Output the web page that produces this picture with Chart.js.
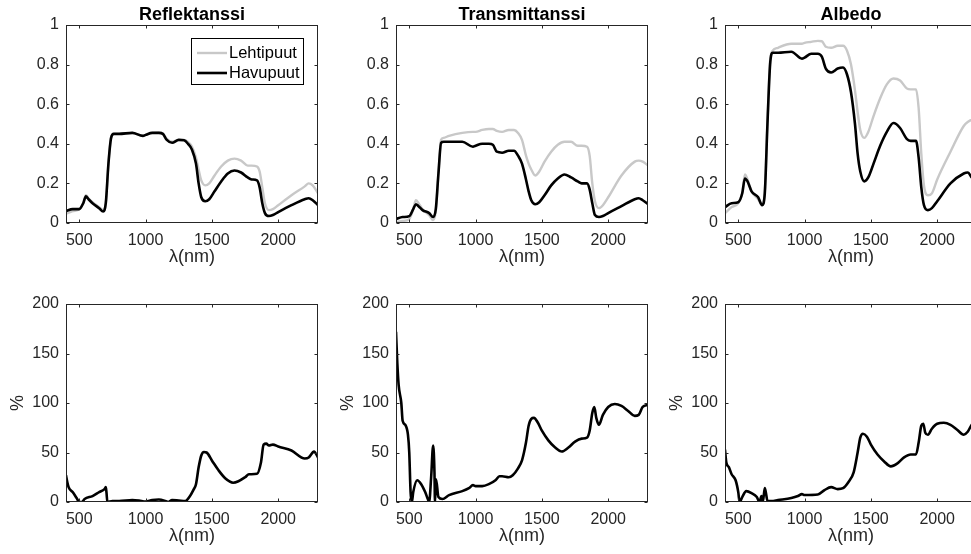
<!DOCTYPE html>
<html>
<head>
<meta charset="utf-8">
<script src="https://cdn.jsdelivr.net/npm/chart.js@4.4.0/dist/chart.umd.min.js"></script>
<style>
  html, body { margin: 0; padding: 0; background: #fff; }
  body { width: 971px; height: 554px; overflow: hidden; position: relative; }
  .panel { position: absolute; }
  canvas { display: block; }
</style>
</head>
<body>
<div class="panel" style="left:0px;top:0px"><canvas id="refl" width="330" height="280"></canvas></div>
<div class="panel" style="left:330px;top:0px"><canvas id="trans" width="330" height="280"></canvas></div>
<div class="panel" style="left:659px;top:0px"><canvas id="albedo" width="330" height="280"></canvas></div>
<div class="panel" style="left:0px;top:280px"><canvas id="reflDiff" width="330" height="274"></canvas></div>
<div class="panel" style="left:330px;top:280px"><canvas id="transDiff" width="330" height="274"></canvas></div>
<div class="panel" style="left:659px;top:280px"><canvas id="albedoDiff" width="330" height="274"></canvas></div>
<script>
// wavelengths (nm) used for the spectra of the top row
var wl = [400, 450, 500, 530, 550, 570, 600, 650, 680, 700, 720, 740, 760, 800, 900, 980, 1000, 1050, 1100, 1130,
  1160, 1200, 1250, 1290, 1320, 1350, 1380, 1400, 1420, 1450, 1480, 1520, 1570, 1620, 1670, 1720, 1770, 1800, 1840, 1860,
  1880, 1900, 1930, 1960, 2000, 2100, 2200, 2230, 2260, 2300];

// Reflektanssi
var reflLehti = [.047, .06, .07, .10, .14, .125, .105, .08, .065, .10, .30, .43, .45, .45, .455, .44, .445, .455, .457, .452,
  .425, .41, .42, .42, .41, .385, .33, .27, .215, .19, .20, .24, .285, .315, .325, .315, .29, .29, .285, .26,
  .18, .10, .065, .07, .09, .14, .185, .20, .19, .15];
var reflHavu = [.06, .07, .07, .10, .135, .12, .10, .075, .058, .10, .30, .43, .45, .45, .455, .44, .445, .455, .455, .45,
  .42, .405, .42, .418, .40, .37, .30, .20, .13, .11, .12, .16, .21, .25, .265, .255, .23, .22, .215, .18,
  .10, .05, .035, .04, .055, .09, .12, .125, .115, .09];

// Transmittanssi
var transLehti = [.005, .01, .02, .07, .115, .10, .07, .04, .015, .06, .25, .42, .43, .44, .455, .46, .46, .47, .475, .475,
  .465, .46, .47, .47, .455, .42, .34, .30, .27, .24, .26, .31, .36, .395, .41, .41, .39, .39, .385, .34,
  .20, .11, .075, .09, .13, .24, .31, .315, .31, .29];
var transHavu = [.02, .03, .035, .07, .095, .085, .065, .05, .03, .07, .25, .405, .41, .41, .41, .385, .39, .40, .40, .395,
  .36, .355, .365, .365, .34, .30, .22, .16, .115, .095, .105, .14, .19, .225, .245, .23, .21, .20, .20, .17,
  .10, .04, .03, .035, .05, .085, .12, .125, .115, .095];

// Albedo
var albedoLehti = [.05, .08, .10, .15, .245, .22, .16, .12, .09, .16, .50, .82, .87, .885, .905, .905, .91, .915, .92, .918,
  .89, .885, .895, .895, .87, .80, .67, .56, .47, .43, .46, .54, .63, .70, .73, .72, .68, .675, .675, .58,
  .35, .19, .14, .15, .22, .36, .49, .51, .52, .48];
var albedoHavu = [.08, .10, .105, .15, .225, .21, .16, .13, .09, .15, .50, .80, .86, .86, .865, .83, .835, .855, .855, .84,
  .78, .76, .78, .785, .75, .66, .50, .35, .26, .21, .23, .30, .39, .46, .505, .48, .425, .415, .415, .33,
  .18, .09, .065, .075, .11, .20, .25, .255, .23, .20];

// bottom row: difference in %
var reflDiffWl = [400, 410, 420, 450, 480, 500, 520, 540, 600, 650, 690, 700, 705, 712, 750, 800, 900, 950, 1000, 1050,
  1100, 1150, 1170, 1200, 1250, 1300, 1330, 1360, 1380, 1400, 1420, 1440, 1460, 1500, 1550, 1600, 1660, 1700, 1750, 1780,
  1840, 1870, 1890, 1910, 1930, 1960, 2000, 2100, 2200, 2230, 2260, 2270, 2300];
var reflDiff = [27, 20, 15, 10, 4, 0, 0, 3, 6, 10, 13, 15, 10, 0, 1, 1, 2, 1.5, 0.5, 2,
  2.5, 1, 0, 2, 1.5, 1, 5, 12, 18, 35, 47, 50.5, 50, 42, 32, 24, 19.5, 21, 25, 28,
  28.5, 40, 58, 59, 57, 58, 56, 52, 44, 45, 50, 51, 45];

var transDiffWl = [400, 410, 420, 440, 450, 470, 490, 500, 510, 520, 530, 560, 590, 620, 640, 650, 665, 680, 690, 694,
  702, 720, 750, 800, 900, 950, 980, 1000, 1050, 1100, 1150, 1180, 1200, 1250, 1280, 1320, 1350, 1380, 1400, 1420,
  1440, 1470, 1500, 1550, 1600, 1650, 1700, 1750, 1800, 1840, 1860, 1880, 1895, 1910, 1930, 1960, 2000, 2050, 2100, 2150,
  2200, 2230, 2260, 2300];
var transDiff = [172, 140, 118, 100, 82, 78, 68, 50, 10, 0, 10, 22, 18, 10, 3, 0, 25, 57, 30, 0,
  23, 5, 3, 7, 11, 14, 17, 16, 16, 18, 22, 26, 26, 25, 27, 34, 42, 60, 77, 84,
  85, 80, 72, 62, 55, 51, 55, 61, 64, 65, 72, 90, 96, 85, 78, 88, 96, 99, 97, 92,
  87, 88, 96, 98];

var albedoDiffWl = [400, 410, 430, 450, 480, 500, 510, 530, 560, 600, 640, 660, 675, 685, 700, 710, 720, 750, 800, 900,
  950, 980, 1000, 1100, 1150, 1200, 1250, 1290, 1330, 1370, 1400, 1420, 1440, 1470, 1500, 1550, 1600, 1650, 1700, 1750,
  1800, 1840, 1860, 1880, 1895, 1910, 1930, 1960, 2000, 2050, 2100, 2150, 2200, 2230, 2260, 2300];
var albedoDiff = [53, 40, 35, 28, 22, 10, 0, 5, 11, 9, 5, 0, 6, 0, 14, 8, 1, 1, 2, 4,
  6, 8, 7, 7.5, 12, 15, 13, 14, 20, 30, 50, 65, 69, 66, 58, 48, 41, 36, 39, 45,
  48, 48, 60, 77, 79, 70, 68, 74, 79, 80, 78, 73, 68, 71, 78, 82];

// ticks
var xTicks = [500, 1000, 1500, 2000];
var yTicksTop = [0, 0.2, 0.4, 0.6, 0.8, 1];
var yTicksBottom = [0, 50, 100, 150, 200];

var FONT = '"Liberation Sans", Arial, Helvetica, sans-serif';
var AXIS = '#262626';
var GRAY = '#c8c8c8';
Chart.defaults.font.family = FONT;

// box round the axes with ticks pointing inwards
var matlabBox = {
  id: 'matlabBox',
  afterDatasetsDraw: function(chart) {
    var ctx = chart.ctx, a = chart.chartArea;
    var L = Math.round(a.left) + 0.5, R = Math.round(a.right) - 0.5;
    var T = Math.round(a.top) + 0.5, B = Math.round(a.bottom) - 0.5;
    var tl = 3;
    ctx.save();
    ctx.strokeStyle = AXIS;
    ctx.lineWidth = 1;
    ctx.strokeRect(L, T, R - L, B - T);
    ctx.beginPath();
    chart.scales.x.ticks.forEach(function(t) {
      var px = Math.round(chart.scales.x.getPixelForValue(t.value)) + 0.5;
      ctx.moveTo(px, B); ctx.lineTo(px, B - tl);
      ctx.moveTo(px, T); ctx.lineTo(px, T + tl);
    });
    chart.scales.y.ticks.forEach(function(t) {
      var py = Math.round(chart.scales.y.getPixelForValue(t.value)) + 0.5;
      ctx.moveTo(L, py); ctx.lineTo(L + tl, py);
      ctx.moveTo(R, py); ctx.lineTo(R - tl, py);
    });
    ctx.stroke();
    ctx.restore();
  }
};

// legend drawn inside the axes, top right
var boxLegend = {
  id: 'boxLegend',
  afterDraw: function(chart, args, opts) {
    if (!opts.show) return;
    var ctx = chart.ctx, a = chart.chartArea;
    var x0 = Math.round(a.right - opts.right - opts.width);
    var y0 = Math.round(a.top + opts.top);
    ctx.save();
    ctx.fillStyle = '#fff';
    ctx.fillRect(x0, y0, opts.width, opts.height);
    ctx.strokeStyle = '#000';
    ctx.lineWidth = 1;
    ctx.strokeRect(x0 + 0.5, y0 + 0.5, opts.width, opts.height);
    ctx.font = opts.fontSize + 'px ' + FONT;
    ctx.textBaseline = 'middle';
    ctx.textAlign = 'left';
    chart.data.datasets.forEach(function(ds, i) {
      var cy = y0 + opts.firstRow + i * opts.rowHeight;
      ctx.strokeStyle = ds.borderColor;
      ctx.lineWidth = ds.borderWidth;
      ctx.beginPath();
      ctx.moveTo(x0 + 6, cy);
      ctx.lineTo(x0 + 36, cy);
      ctx.stroke();
      ctx.fillStyle = '#000';
      ctx.fillText(ds.label, x0 + 38, cy);
    });
    ctx.restore();
  }
};

function series(label, xs, ys, color, width, order) {
  return {
    label: label,
    data: xs.map(function(x, i) { return { x: x, y: ys[i] }; }),
    borderColor: color,
    borderWidth: width,
    order: order,
    pointRadius: 0,
    fill: false,
    cubicInterpolationMode: 'monotone'
  };
}

function panel(id, cfg) {
  var top = cfg.title ? true : false;
  new Chart(document.getElementById(id), {
    type: 'line',
    data: { datasets: cfg.datasets },
    options: {
      responsive: false,
      animation: false,
      events: [],
      layout: { padding: { left: 0, right: 12, top: top ? 0 : 24, bottom: top ? 7 : 2 } },
      scales: {
        x: {
          type: 'linear', min: 400, max: 2300,
          afterBuildTicks: function(s) { s.ticks = xTicks.map(function(v) { return { value: v }; }); },
          afterFit: function(s) { s.height = 50; },
          grid: { display: false, drawTicks: false },
          border: { display: false },
          ticks: { padding: 8, color: AXIS, font: { size: 16 }, maxRotation: 0, autoSkip: false,
            callback: function(v) { return String(v); } },
          title: { display: true, text: 'λ(nm)', color: AXIS, font: { size: 18 }, padding: { top: 0, bottom: 5 } }
        },
        y: {
          min: cfg.yMin, max: cfg.yMax,
          afterBuildTicks: function(s) { s.ticks = cfg.yTicks.map(function(v) { return { value: v }; }); },
          afterFit: function(s) { s.width = 66; },
          grid: { display: false, drawTicks: false },
          border: { display: false },
          ticks: { padding: 7, color: AXIS, font: { size: 16 }, callback: function(v) { return String(v); } },
          title: { display: !top, text: '%', color: AXIS, font: { size: 18 }, padding: { top: 7.2, bottom: 0 } }
        }
      },
      plugins: {
        legend: { display: false },
        tooltip: { enabled: false },
        title: {
          display: top, text: cfg.title || '', color: '#000', fullSize: false,
          font: { size: 18, weight: 'bold', lineHeight: 1.1 }, padding: { top: 5, bottom: 0.2 }
        },
        boxLegend: { show: !!cfg.legend, right: 15, top: 13, width: 112, height: 46, firstRow: 15, rowHeight: 20, fontSize: 16.5 }
      }
    },
    plugins: [matlabBox, boxLegend]
  });
}

panel('refl', {
  title: 'Reflektanssi', yMin: 0, yMax: 1, yTicks: yTicksTop, legend: true,
  datasets: [series('Lehtipuut', wl, reflLehti, GRAY, 2.4, 2), series('Havupuut', wl, reflHavu, '#000', 2.6, 1)]
});
panel('trans', {
  title: 'Transmittanssi', yMin: 0, yMax: 1, yTicks: yTicksTop,
  datasets: [series('Lehtipuut', wl, transLehti, GRAY, 2.4, 2), series('Havupuut', wl, transHavu, '#000', 2.6, 1)]
});
panel('albedo', {
  title: 'Albedo', yMin: 0, yMax: 1, yTicks: yTicksTop,
  datasets: [series('Lehtipuut', wl, albedoLehti, GRAY, 2.4, 2), series('Havupuut', wl, albedoHavu, '#000', 2.6, 1)]
});
panel('reflDiff', {
  yMin: 0, yMax: 200, yTicks: yTicksBottom,
  datasets: [series('Ero', reflDiffWl, reflDiff, '#000', 2.6, 1)]
});
panel('transDiff', {
  yMin: 0, yMax: 200, yTicks: yTicksBottom,
  datasets: [series('Ero', transDiffWl, transDiff, '#000', 2.6, 1)]
});
panel('albedoDiff', {
  yMin: 0, yMax: 200, yTicks: yTicksBottom,
  datasets: [series('Ero', albedoDiffWl, albedoDiff, '#000', 2.6, 1)]
});
</script>
</body>
</html>
